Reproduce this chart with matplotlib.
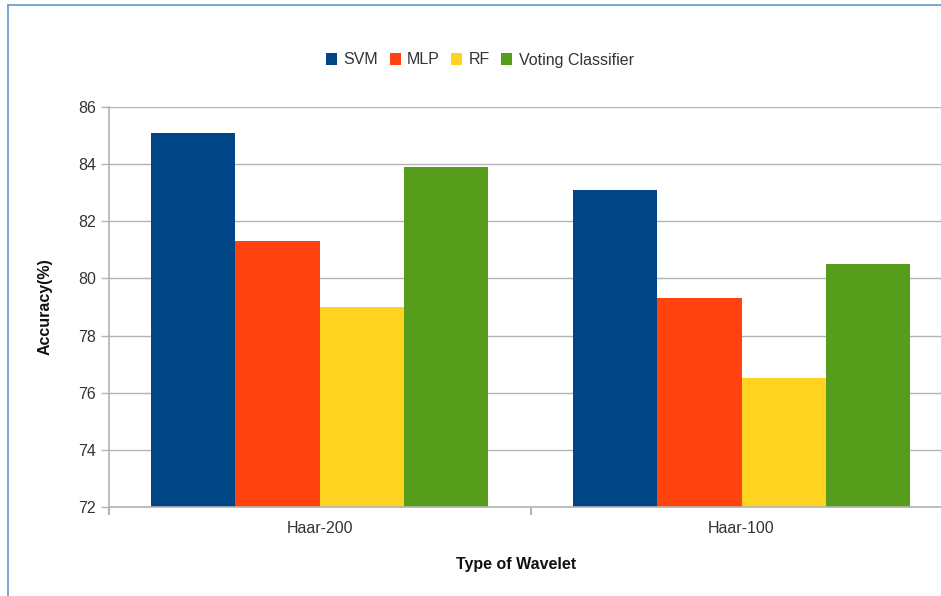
import matplotlib
matplotlib.use("Agg")
import matplotlib.pyplot as plt
from matplotlib.lines import Line2D
from matplotlib.patches import Patch
import numpy as np

plt.rcParams['font.family'] = ['Liberation Sans', 'DejaVu Sans']

wavelets = ["Haar-200", "Haar-100"]
series_names = ["SVM", "MLP", "RF", "Voting Classifier"]
svm = [85.1, 83.1]
mlp = [81.3, 79.3]
rf = [79.0, 76.5]
voting = [83.9, 80.5]
y_ticks = [72, 74, 76, 78, 80, 82, 84, 86]

colors = ["#004586", "#ff420e", "#ffd320", "#579d1c"]
series = [svm, mlp, rf, voting]

W, H = 941, 596
fig = plt.figure(figsize=(W / 100, H / 100), dpi=100)
fig.patch.set_facecolor("white")

ax_left = 108.5 / W
ax_width = 844 / W
ax_bottom = (H - 507) / H
ax_height = 400 / H
ax = fig.add_axes([ax_left, ax_bottom, ax_width, ax_height])

x = np.arange(len(wavelets))
bw = 0.2
offsets = [-0.3, -0.1, 0.1, 0.3]
for vals, off, c in zip(series, offsets, colors):
    ax.bar(x + off, np.array(vals) - 72, bottom=72, width=bw, color=c,
           edgecolor="none", zorder=3)

ax.set_xlim(-0.5, 1.5)
ax.set_ylim(72, 86)
ax.set_yticks(y_ticks)
ax.set_yticklabels([str(t) for t in y_ticks])
ax.set_xticks(x)
ax.set_xticklabels(wavelets)
ax.set_xticks([-0.5, 0.5, 1.5], minor=True)

grid_c = "#b3b3b3"
ax.yaxis.grid(True, color=grid_c, linewidth=1.0, zorder=0)
ax.set_axisbelow(True)
for s in ["top", "right"]:
    ax.spines[s].set_visible(False)
for s in ["left", "bottom"]:
    ax.spines[s].set_color(grid_c)
    ax.spines[s].set_linewidth(1.2)
    ax.spines[s].set_zorder(4)

ax.tick_params(axis="y", length=6, width=1.0, color=grid_c, pad=3,
               labelsize=11.5, labelcolor="#333333")
ax.tick_params(axis="x", which="major", length=0, pad=10,
               labelsize=11.5, labelcolor="#333333")
ax.tick_params(axis="x", which="minor", length=6, width=1.5, color=grid_c)

fig.text(45 / W, 1 - 307 / H, "Accuracy(%)", rotation=90, ha="center",
         va="center", fontsize=11.5, fontweight="bold", color="#111111")
fig.text(516 / W, 1 - 565 / H, "Type of Wavelet", ha="center", va="center",
         fontsize=11.5, fontweight="bold", color="#111111")

handles = [Patch(facecolor=c, edgecolor="none") for c in colors]
leg = fig.legend(handles, series_names, loc="center",
                 bbox_to_anchor=(480 / W, 1 - 60 / H), ncol=4, frameon=False,
                 fontsize=11.5, handlelength=0.7, handleheight=0.7,
                 handletextpad=0.4, columnspacing=0.7, borderpad=0)
for t in leg.get_texts():
    t.set_color("#333333")

border_c = "#729fcf"
fig.add_artist(Line2D([8 / W, 1.0], [1 - 5 / H, 1 - 5 / H],
                      transform=fig.transFigure, color=border_c, linewidth=1.3))
fig.add_artist(Line2D([8 / W, 8 / W], [0.0, 1 - 5 / H],
                      transform=fig.transFigure, color=border_c, linewidth=1.3))

fig.savefig("out.png", dpi=100, facecolor="white")
